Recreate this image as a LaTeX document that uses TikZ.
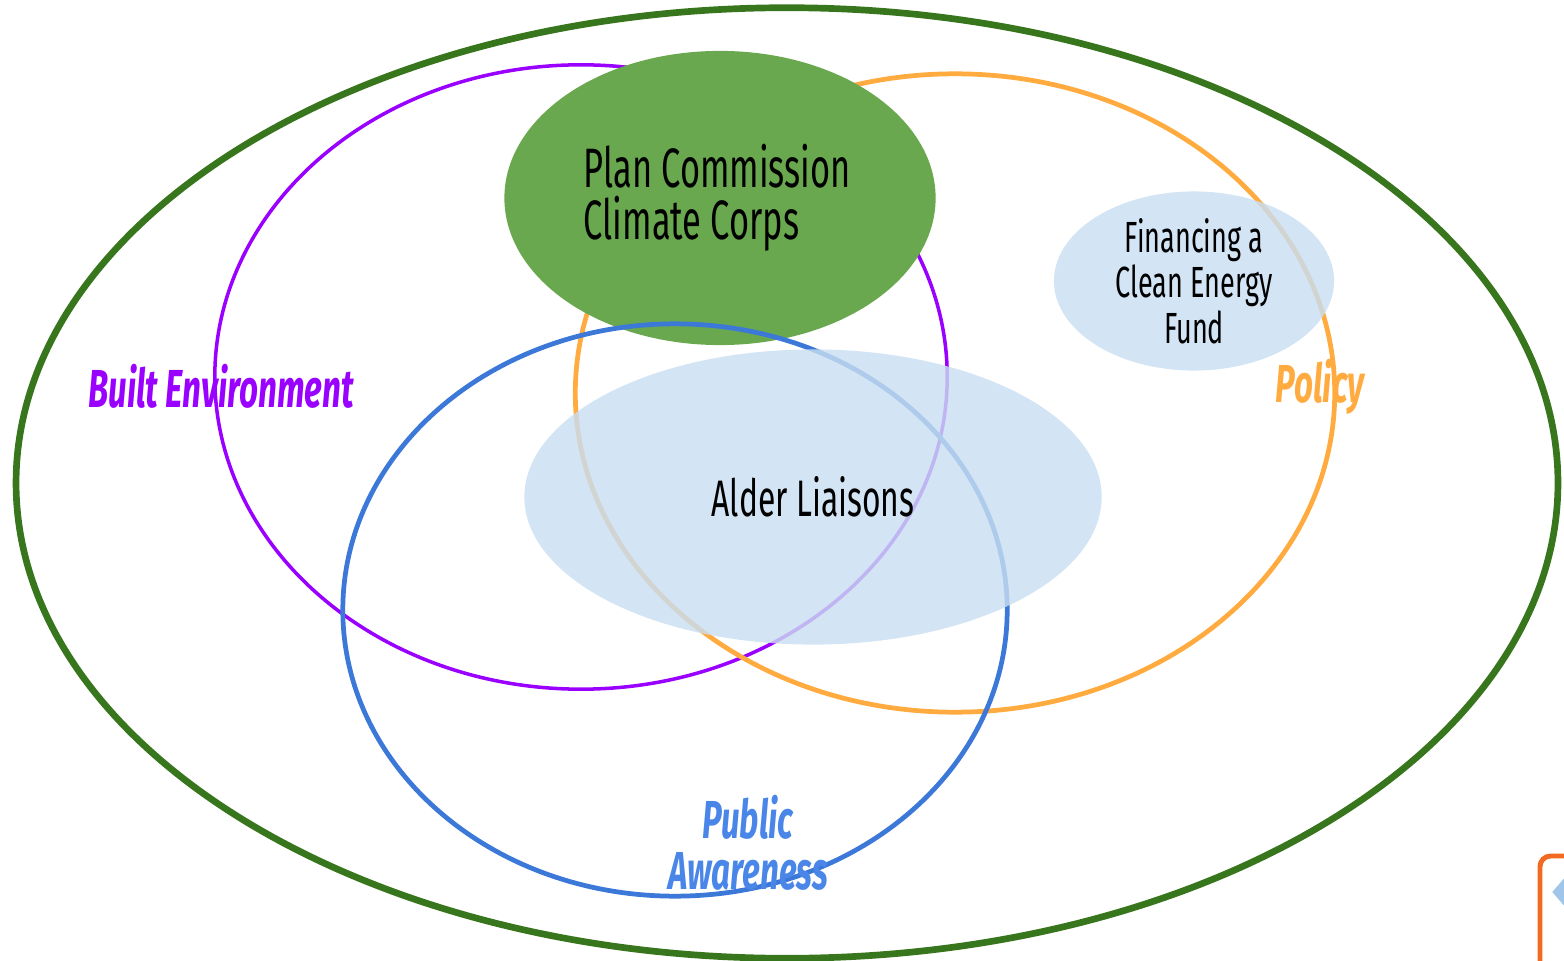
\documentclass[tikz,border=0pt]{standalone}
\usepackage{fontspec}
\setmainfont{Fira Sans}[FakeStretch=0.62]
\usetikzlibrary{shapes.geometric}

\definecolor{framegreen}{HTML}{38761D}
\definecolor{leafgreen}{HTML}{6AA84F}
\definecolor{builtpurple}{HTML}{9900FF}
\definecolor{policyorange}{HTML}{FFAB40}
\definecolor{publicblue}{HTML}{3C78D8}
\definecolor{publictext}{HTML}{4A86E8}
\definecolor{paleblue}{HTML}{C9DEF1}
\definecolor{cornerorange}{HTML}{F26A21}
\definecolor{cornerblue}{HTML}{9FC5E8}

\tikzset{
	ring/.style={draw, ellipse, inner sep=0pt},
	blob/.style={ellipse, inner sep=0pt, fill=paleblue, fill opacity=0.82, text opacity=1},
	tag/.style={font=\bfseries\itshape\fontsize{15.2}{14.4}\selectfont, align=center}
}

\begin{document}
\begin{tikzpicture}[x=0.01cm, y=-0.01cm]
		\useasboundingbox (0,0) rectangle (1564,961);
		\clip (0,0) rectangle (1564,961);
	
		% 楕円を描画
		\node[ring, draw=framegreen, line width=1.9pt, minimum width=15.41cm, minimum height=9.50cm] (Frame) at (787,483) {};
		\node[ring, draw=builtpurple, line width=1pt, minimum width=7.32cm, minimum height=6.24cm] (Built) at (581,377) {};
		\node[ring, draw=policyorange, line width=1.35pt, minimum width=7.59cm, minimum height=6.38cm] (Policy) at (955,393) {};
		\node[ellipse, inner sep=0pt, fill=leafgreen, minimum width=4.31cm, minimum height=2.94cm] (Plan) at (720,198) {};
		\node[ring, draw=publicblue, line width=1.35pt, minimum width=6.64cm, minimum height=5.72cm] (Public) at (675,610) {};
		\node[blob, minimum width=5.77cm, minimum height=2.95cm, font=\fontsize{14.6}{14}\selectfont] (Alder) at (813,497) {Alder Liaisons};
		\node[blob, minimum width=2.80cm, minimum height=1.79cm] (Fund) at (1194,281) {};
	
		% テキストを追加
		\node[anchor=west, inner sep=0pt, align=left, font=\fontsize{15.8}{14.8}\selectfont] (PlanText) at (583,198) {Plan Commission\\Climate Corps};
		\node[align=center, font=\fontsize{12.4}{11.2}\selectfont] (FundText) at (1194,281) {Financing a\\Clean Energy\\Fund};
		\node[tag, text=builtpurple] (BuiltTag) at (221,386) {Built Environment};
		\node[tag, text=policyorange] (PolicyTag) at (1320,387) {Policy};
		\node[tag, text=publictext] (PublicTag) at (748,843) {Public\\Awareness};
	
		% 右下の切れた枠
		\draw[cornerorange, line width=1.4pt, rounded corners=3pt] (1540,1000) -- (1540,856) -- (1600,856);
		\node[diamond, fill=cornerblue, inner sep=0pt, minimum width=0.26cm, minimum height=0.30cm] (Mark) at (1565,892) {};
	\end{tikzpicture}
\end{document}
